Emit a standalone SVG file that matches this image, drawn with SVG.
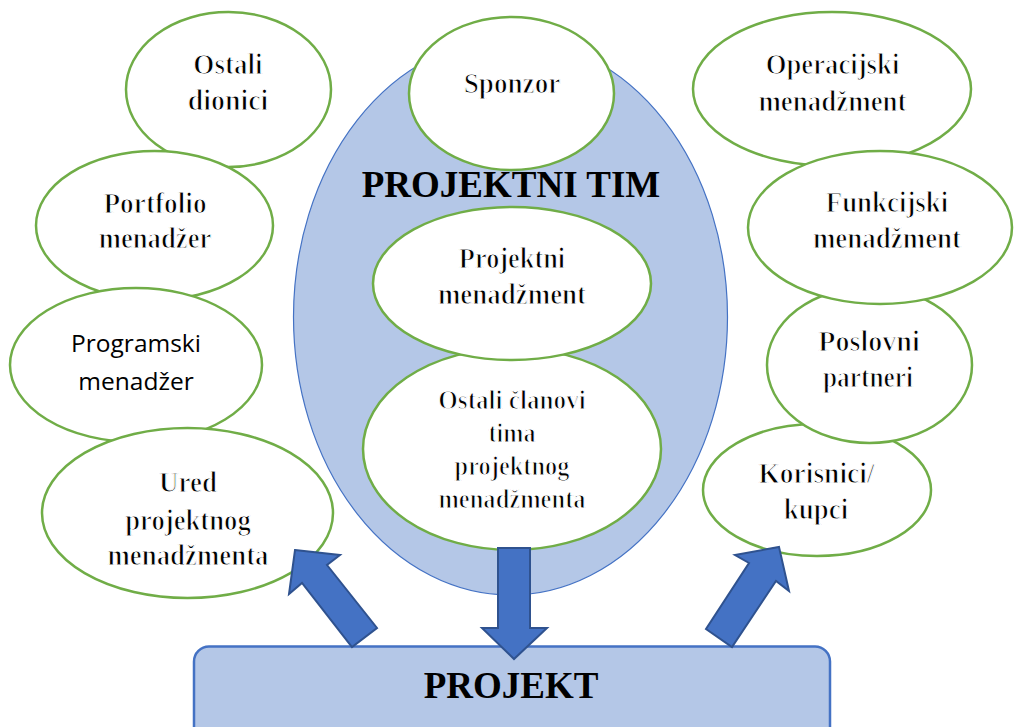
<svg xmlns="http://www.w3.org/2000/svg" width="1014" height="727" viewBox="0 0 1014 727">
  <style>
    .node { fill: #FFFFFF; stroke: #70AD47; stroke-width: 2.5; }
    .team { fill: #B4C7E7; stroke: #4472C4; stroke-width: 1.2; }
    .box { fill: #B4C7E7; stroke: #4472C4; stroke-width: 2.5; }
    .arrow { fill: #4472C4; stroke: #2F528F; stroke-width: 2; stroke-linejoin: miter; }
    text { fill: #000000; text-anchor: middle; }
    /* serif labels: heavy face slimmed by a white halo, widths fixed by textLength */
    .label, .label-small { font-family: "Liberation Serif", "Times New Roman", serif; font-weight: bold;
      stroke: #FFFFFF; stroke-width: 1.1; stroke-linejoin: round; }
    .label { font-size: 29px; }
    .label-small { font-size: 26.5px; }
    .label-sans { font-family: "Open Sans", "Noto Sans", sans-serif; font-size: 24.5px; }
    .title { font-family: "Liberation Serif", "Times New Roman", serif; font-size: 37px; font-weight: bold; }
  </style>
  <rect width="1014" height="727" fill="#FFFFFF"/>

  <!-- Project team container -->
  <g id="projektni-tim">
    <ellipse class="team" cx="510.5" cy="317" rx="217" ry="278"/>
  </g>

  <!-- Left column of stakeholders -->
  <g id="ostali-dionici">
    <ellipse class="node" cx="228.5" cy="89.5" rx="102.5" ry="77.5"/>
    <text class="label" x="228" y="74" textLength="69.3" lengthAdjust="spacingAndGlyphs">Ostali</text>
    <text class="label" x="228" y="110" textLength="80.6" lengthAdjust="spacingAndGlyphs">dionici</text>
  </g>
  <g id="portfolio-menadzer">
    <ellipse class="node" cx="154.5" cy="225.5" rx="118.5" ry="74.5"/>
    <text class="label" x="155" y="213" textLength="103.1" lengthAdjust="spacingAndGlyphs">Portfolio</text>
    <text class="label" x="155" y="248" textLength="112.7" lengthAdjust="spacingAndGlyphs">menadžer</text>
  </g>
  <g id="programski-menadzer">
    <ellipse class="node" cx="136" cy="365" rx="126" ry="77"/>
    <text class="label-sans" x="136" y="352">Programski</text>
    <text class="label-sans" x="136" y="390">menadžer</text>
  </g>
  <g id="ured">
    <ellipse class="node" cx="187.5" cy="513" rx="145.5" ry="85"/>
    <text class="label" x="188" y="492" textLength="58" lengthAdjust="spacingAndGlyphs">Ured</text>
    <text class="label" x="188" y="530" textLength="125.7" lengthAdjust="spacingAndGlyphs">projektnog</text>
    <text class="label" x="188" y="565" textLength="161.1" lengthAdjust="spacingAndGlyphs">menadžmenta</text>
  </g>

  <!-- Right column of stakeholders -->
  <g id="operacijski-menadzment">
    <ellipse class="node" cx="832" cy="89" rx="139" ry="77"/>
    <text class="label" x="832.5" y="74" textLength="133.7" lengthAdjust="spacingAndGlyphs">Operacijski</text>
    <text class="label" x="832.5" y="111" textLength="148.2" lengthAdjust="spacingAndGlyphs">menadžment</text>
  </g>
  <g id="korisnici">
    <ellipse class="node" cx="817" cy="490" rx="114" ry="66"/>
    <text class="label" x="816.5" y="483" textLength="116" lengthAdjust="spacingAndGlyphs">Korisnici/</text>
    <text class="label" x="816" y="519" textLength="64.4" lengthAdjust="spacingAndGlyphs">kupci</text>
  </g>
  <g id="poslovni-partneri">
    <ellipse class="node" cx="869.5" cy="365" rx="102.5" ry="78"/>
    <text class="label" x="869" y="351" textLength="101.5" lengthAdjust="spacingAndGlyphs">Poslovni</text>
    <text class="label" x="868" y="387" textLength="90.2" lengthAdjust="spacingAndGlyphs">partneri</text>
  </g>
  <g id="funkcijski-menadzment">
    <ellipse class="node" cx="880" cy="227.5" rx="132" ry="76.5"/>
    <text class="label" x="887" y="212" textLength="122.5" lengthAdjust="spacingAndGlyphs">Funkcijski</text>
    <text class="label" x="887" y="248" textLength="148.2" lengthAdjust="spacingAndGlyphs">menadžment</text>
  </g>

  <!-- Inside the team -->
  <g id="sponzor">
    <ellipse class="node" cx="511.5" cy="93.5" rx="102.5" ry="76.5"/>
    <text class="label" x="512" y="93" textLength="96.7" lengthAdjust="spacingAndGlyphs">Sponzor</text>
  </g>
  <g id="tim-naslov">
    <text class="title" x="511" y="197">PROJEKTNI TIM</text>
  </g>
  <g id="ostali-clanovi">
    <ellipse class="node" cx="512" cy="449" rx="149" ry="101"/>
    <text class="label-small" x="512" y="409" textLength="147.4" lengthAdjust="spacingAndGlyphs">Ostali članovi</text>
    <text class="label-small" x="512" y="442" textLength="47.1" lengthAdjust="spacingAndGlyphs">tima</text>
    <text class="label-small" x="512" y="475" textLength="114.8" lengthAdjust="spacingAndGlyphs">projektnog</text>
    <text class="label-small" x="512" y="508" textLength="147.2" lengthAdjust="spacingAndGlyphs">menadžmenta</text>
  </g>
  <g id="projektni-menadzment">
    <ellipse class="node" cx="512" cy="283.5" rx="139" ry="76.5"/>
    <text class="label" x="512" y="268" textLength="106.3" lengthAdjust="spacingAndGlyphs">Projektni</text>
    <text class="label" x="512" y="304" textLength="148.2" lengthAdjust="spacingAndGlyphs">menadžment</text>
  </g>

  <!-- Project block -->
  <g id="projekt">
    <rect class="box" x="194" y="646.5" width="636" height="100" rx="15" ry="15"/>
    <text class="title" x="511" y="698">PROJEKT</text>
  </g>

  <!-- Block arrows between the team, the project and the surroundings -->
  <g id="connectors">
    <polygon class="arrow" points="498,548 530,548 530,628 547,628 514,659 482,628 498,628"/>
    <polygon class="arrow" points="295,550 340,555 327,565 377,628 352,647 302,583 289,594"/>
    <polygon class="arrow" points="779,547 789,591 776,581 732,647 706,629 749,563 735,555"/>
  </g>
</svg>
